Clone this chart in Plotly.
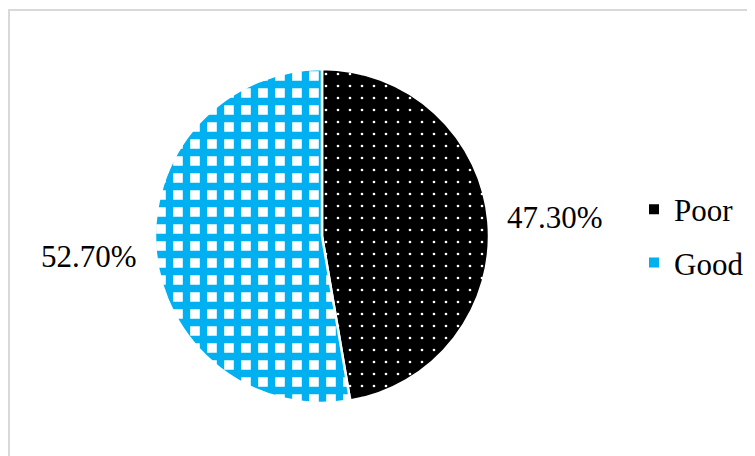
import math
import plotly.graph_objects as go

categories = ["Poor", "Good"]
values = [47.30, 52.70]
colors = ["#000000", "#00B0F0"]

W, H = 755, 456
OFF = 8  # page body offset
cx, cy, r = 322 - OFF, 236 - OFF, 167
FONT = "Liberation Serif, Times New Roman, serif"

fig = go.Figure()
fig.add_trace(go.Pie(
    labels=categories,
    values=values,
    sort=False,
    direction="clockwise",
    rotation=0,
    textinfo="none",
    hoverinfo="label+percent",
    showlegend=False,
    marker=dict(
        colors=["#000000", "#FFFFFF"],
        line=dict(color="white", width=2.5),
        pattern=dict(
            shape=[".", "+"],
            fgcolor=["#FFFFFF", "#00B0F0"],
            bgcolor=["#000000", "#FFFFFF"],
            size=[12, 17],
            solidity=[0.04, 0.68],
            fillmode="replace",
        ),
    ),
    domain=dict(x=[(cx - r) / W, (cx + r) / W], y=[1 - (cy + r) / H, 1 - (cy - r) / H]),
))

# legend entries
for i, (cat, col) in enumerate(zip(categories, colors)):
    fig.add_trace(go.Scatter(
        x=[None], y=[None], mode="markers", name=cat,
        legendgroup=f"g{i}",
        marker=dict(symbol="square", size=10, color=col,
                    line=dict(color=col, width=0)),
    ))

# data-driven outside labels
total = sum(values)
start = 0.0
d = 234
for cat, v in zip(categories, values):
    mid = start + v / total * 360 / 2
    start += v / total * 360
    ang = math.radians(mid)
    px = cx + d * math.sin(ang)
    py = cy - d * math.cos(ang) + 1
    fig.add_annotation(
        x=px / W, y=1 - py / H, xref="paper", yref="paper",
        text=f"{v / total * 100:.2f}%", showarrow=False,
        font=dict(family=FONT, size=31, color="#000000"),
        xanchor="center", yanchor="middle",
    )

# chart border (partially visible)
fig.add_shape(type="rect", xref="paper", yref="paper",
              x0=(9 - OFF) / W, y0=1 - (10 - OFF) / H, x1=1.05, y1=-0.05,
              line=dict(color="#D9D9D9", width=2), layer="below")

fig.update_layout(
    width=W, height=H,
    margin=dict(l=0, r=0, t=0, b=0),
    paper_bgcolor="white",
    plot_bgcolor="white",
    xaxis=dict(visible=False),
    yaxis=dict(visible=False),
    showlegend=True,
    legend=dict(
        x=(634 - OFF) / W, y=1 - (236 - OFF) / H, xanchor="left", yanchor="middle",
        font=dict(family=FONT, size=31, color="#000000"),
        itemwidth=30, tracegroupgap=10,
        bgcolor="rgba(0,0,0,0)",
    ),
)

fig.write_html("out.html")
